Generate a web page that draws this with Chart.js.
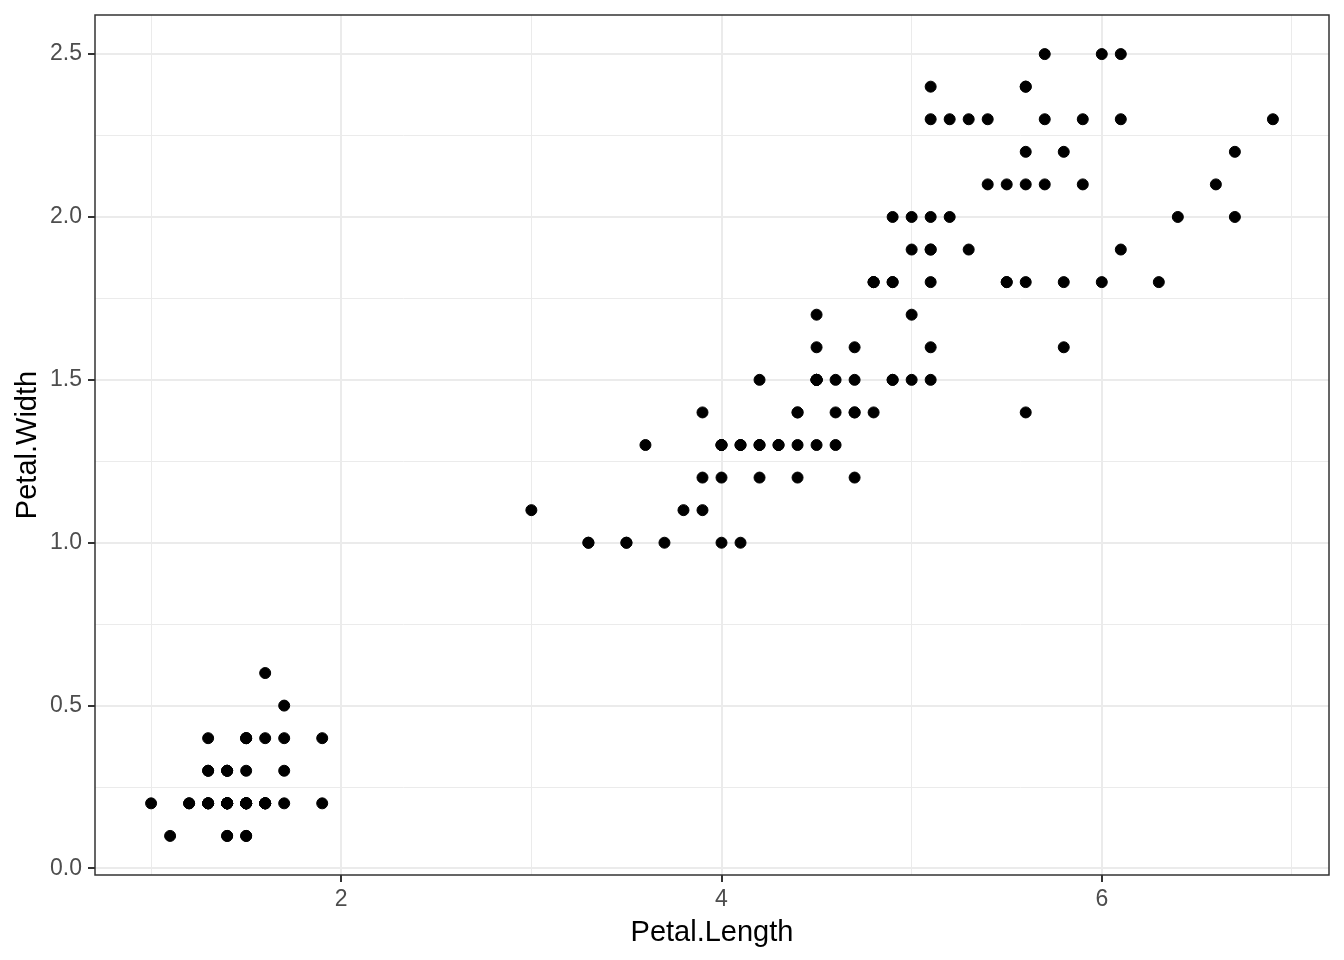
<!DOCTYPE html>
<html lang="en">
<head>
  <meta charset="UTF-8" />
  <title>Petal.Length vs Petal.Width</title>
  <script src="https://cdn.jsdelivr.net/npm/chart.js"></script>
  <style>
    html, body { margin: 0; padding: 0; background: #fff; }
    .quadro { width: 1344px; height: 960px; position: relative; }
  </style>
</head>
<body>
  <div class="quadro">
    <canvas id="grafico"></canvas>
  </div>

<script>
// iris: Petal.Length / Petal.Width
var petalLength = [
  1.4, 1.4, 1.3, 1.5, 1.4, 1.7, 1.4, 1.5, 1.4, 1.5, 1.5, 1.6, 1.4, 1.1, 1.2, 1.5, 1.3, 1.4, 1.7, 1.5,
  1.7, 1.5, 1.0, 1.7, 1.9, 1.6, 1.6, 1.5, 1.4, 1.6, 1.6, 1.5, 1.5, 1.4, 1.5, 1.2, 1.3, 1.4, 1.3, 1.5,
  1.3, 1.3, 1.3, 1.6, 1.9, 1.4, 1.6, 1.4, 1.5, 1.4,
  4.7, 4.5, 4.9, 4.0, 4.6, 4.5, 4.7, 3.3, 4.6, 3.9, 3.5, 4.2, 4.0, 4.7, 3.6, 4.4, 4.5, 4.1, 4.5, 3.9,
  4.8, 4.0, 4.9, 4.7, 4.3, 4.4, 4.8, 5.0, 4.5, 3.5, 3.8, 3.7, 3.9, 5.1, 4.5, 4.5, 4.7, 4.4, 4.1, 4.0,
  4.4, 4.6, 4.0, 3.3, 4.2, 4.2, 4.2, 4.3, 3.0, 4.1,
  6.0, 5.1, 5.9, 5.6, 5.8, 6.6, 4.5, 6.3, 5.8, 6.1, 5.1, 5.3, 5.5, 5.0, 5.1, 5.3, 5.5, 6.7, 6.9, 5.0,
  5.7, 4.9, 6.7, 4.9, 5.7, 6.0, 4.8, 4.9, 5.6, 5.8, 6.1, 6.4, 5.6, 5.1, 5.6, 6.1, 5.6, 5.5, 4.8, 5.4,
  5.6, 5.1, 5.1, 5.9, 5.7, 5.2, 5.0, 5.2, 5.4, 5.1
];
var petalWidth = [
  0.2, 0.2, 0.2, 0.2, 0.2, 0.4, 0.3, 0.2, 0.2, 0.1, 0.2, 0.2, 0.1, 0.1, 0.2, 0.4, 0.4, 0.3, 0.3, 0.3,
  0.2, 0.4, 0.2, 0.5, 0.2, 0.2, 0.4, 0.2, 0.2, 0.2, 0.2, 0.4, 0.1, 0.2, 0.2, 0.2, 0.2, 0.1, 0.2, 0.2,
  0.3, 0.3, 0.2, 0.6, 0.4, 0.3, 0.2, 0.2, 0.2, 0.2,
  1.4, 1.5, 1.5, 1.3, 1.5, 1.3, 1.6, 1.0, 1.3, 1.4, 1.0, 1.5, 1.0, 1.4, 1.3, 1.4, 1.5, 1.0, 1.5, 1.1,
  1.8, 1.3, 1.5, 1.2, 1.3, 1.4, 1.4, 1.7, 1.5, 1.0, 1.1, 1.0, 1.2, 1.6, 1.5, 1.6, 1.5, 1.3, 1.3, 1.3,
  1.2, 1.4, 1.2, 1.0, 1.3, 1.2, 1.3, 1.3, 1.1, 1.3,
  2.5, 1.9, 2.1, 1.8, 2.2, 2.1, 1.7, 1.8, 1.8, 2.5, 2.0, 1.9, 2.1, 2.0, 2.4, 2.3, 1.8, 2.2, 2.3, 1.5,
  2.3, 2.0, 2.0, 1.8, 2.1, 1.8, 1.8, 1.8, 2.1, 1.6, 1.9, 2.0, 2.2, 1.5, 1.4, 2.3, 2.4, 1.8, 1.8, 2.1,
  2.4, 2.3, 1.9, 2.3, 2.5, 2.3, 1.9, 2.0, 2.3, 1.8
];

// grid / tick positions (major ones get a label)
var xTicks = [1, 2, 3, 4, 5, 6, 7];
var xMajor = [2, 4, 6];
var yTicks = [0, 0.25, 0.5, 0.75, 1, 1.25, 1.5, 1.75, 2, 2.25, 2.5];
var yMajor = [0, 0.5, 1, 1.5, 2, 2.5];

var pontos = [];
for (let i = 0; i < petalLength.length; i++) {
  pontos.push({ x: petalLength[i], y: petalWidth[i] });
}

function ehMaior(lista, v) {
  return lista.some(function (m) { return Math.abs(m - v) < 1e-9; });
}

const fonteEixo = '"Liberation Sans", Arial, Helvetica, sans-serif';

// moldura do painel (panel.border do theme_bw)
const moldura = {
  id: 'moldura',
  afterDatasetsDraw(chart) {
    const a = chart.chartArea;
    const ctx = chart.ctx;
    ctx.save();
    ctx.strokeStyle = '#333333';
    ctx.lineWidth = 1.5;
    ctx.strokeRect(a.left, a.top, a.right - a.left, a.bottom - a.top);
    ctx.restore();
  }
};

const config = {
  type: 'scatter',
  data: {
    datasets: [{
      label: 'iris',
      data: pontos,
      backgroundColor: '#000000',
      borderColor: '#000000',
      pointRadius: 5.5,
      pointBorderWidth: 1
    }]
  },
  options: {
    responsive: true,
    maintainAspectRatio: false,
    animation: false,
    events: [],
    layout: { padding: { top: 15, right: 15, left: 0, bottom: 0 } },
    plugins: {
      legend: { display: false },
      tooltip: { enabled: false }
    },
    scales: {
      x: {
        type: 'linear',
        min: 0.705,
        max: 7.195,
        afterBuildTicks: function (scale) {
          scale.ticks = xTicks.map(function (v) { return { value: v }; });
        },
        afterFit: function (scale) {
          scale.height = 85;
          scale.paddingLeft = 0;
          scale.paddingRight = 0;
        },
        border: { display: false },
        grid: {
          color: '#EBEBEB',
          lineWidth: function (c) { return ehMaior(xMajor, c.tick.value) ? 2 : 1; },
          tickColor: function (c) { return ehMaior(xMajor, c.tick.value) ? '#333333' : 'rgba(0,0,0,0)'; },
          tickWidth: 2,
          tickLength: 7,
          drawTicks: true
        },
        ticks: {
          autoSkip: false,
          maxRotation: 0,
          padding: 4,
          color: '#4D4D4D',
          font: { family: fonteEixo, size: 23 },
          callback: function (v) { return ehMaior(xMajor, v) ? String(v) : ''; }
        },
        title: {
          display: true,
          text: 'Petal.Length',
          color: '#000000',
          font: { family: fonteEixo, size: 29 },
          padding: { top: 0, bottom: 10 }
        }
      },
      y: {
        type: 'linear',
        min: -0.02,
        max: 2.62,
        afterBuildTicks: function (scale) {
          scale.ticks = yTicks.map(function (v) { return { value: v }; });
        },
        afterFit: function (scale) {
          scale.width = 95;
          scale.paddingTop = 0;
          scale.paddingBottom = 0;
        },
        border: { display: false },
        grid: {
          color: '#EBEBEB',
          lineWidth: function (c) { return ehMaior(yMajor, c.tick.value) ? 2 : 1; },
          tickColor: function (c) { return ehMaior(yMajor, c.tick.value) ? '#333333' : 'rgba(0,0,0,0)'; },
          tickWidth: 2,
          tickLength: 7,
          drawTicks: true
        },
        ticks: {
          autoSkip: false,
          padding: 6,
          color: '#4D4D4D',
          font: { family: fonteEixo, size: 23 },
          callback: function (v) { return ehMaior(yMajor, v) ? v.toFixed(1) : ''; }
        },
        title: {
          display: true,
          text: 'Petal.Width',
          color: '#000000',
          font: { family: fonteEixo, size: 29 },
          padding: { top: 11, bottom: 0 }
        }
      }
    }
  },
  plugins: [moldura]
};

const grafico = new Chart(document.getElementById('grafico'), config);
</script>
</body>
</html>
